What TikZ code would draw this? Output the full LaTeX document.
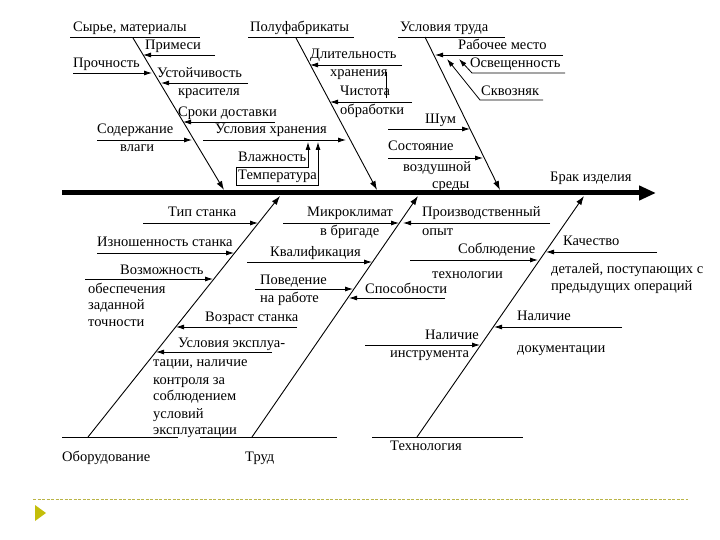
\documentclass[tikz,border=0pt]{standalone}
\usepackage{fontspec}
\setmainfont{Liberation Serif}
\usetikzlibrary{arrows.meta}
\newcommand\dfont{\fontsize{14.5}{17}\selectfont}
\definecolor{olivebul}{RGB}{196,190,10}
\definecolor{dashcol}{RGB}{185,180,70}
\begin{document}
\begin{tikzpicture}[x=1pt,y=-1pt,
 lbl/.style={anchor=base west,inner sep=0pt,font=\dfont},
 ln/.style={line width=0.8pt,black},
 arr/.style={ln,-{Latex[length=8pt,width=5pt]}},
 rib/.style={line width=0.9pt,black,-{Latex[length=9pt,width=6pt]}},
 spine/.style={line width=5pt,black,-{Triangle[length=17pt,width=14pt]}}]
\useasboundingbox (0,0) rectangle (720,540);

% ---------- spine ----------
\coordinate (sp1) at (62,193);
\coordinate (sp2) at (656,193);
\draw[spine] (sp1) -- (sp2);
\node[lbl] (brak) at (550,182) {Брак изделия};

% ---------- rib coordinates ----------
\coordinate (r1a) at (133,38);  \coordinate (r1b) at (224,190);
\coordinate (r2a) at (296,38);  \coordinate (r2b) at (377,190);
\coordinate (r3a) at (425,37);  \coordinate (r3b) at (500,190);
\coordinate (r4a) at (88,437);  \coordinate (r4b) at (280,196);
\coordinate (r5a) at (252,437); \coordinate (r5b) at (418,196);
\coordinate (r6a) at (417,437); \coordinate (r6b) at (584,196);
\draw[rib] (r1a) -- (r1b);
\draw[rib] (r2a) -- (r2b);
\draw[rib] (r3a) -- (r3b);
\draw[rib] (r4a) -- (r4b);
\draw[rib] (r5a) -- (r5b);
\draw[rib] (r6a) -- (r6b);

% ---------- category headers ----------
\node[lbl] (c1) at (73,32) {Сырье, материалы};
\coordinate (u1a) at (70,37); \coordinate (u1b) at (200,37);
\draw[ln] (u1a) -- (u1b);
\node[lbl] (c2) at (250,32) {Полуфабрикаты};
\coordinate (u2a) at (248,37); \coordinate (u2b) at (354,37);
\draw[ln] (u2a) -- (u2b);
\node[lbl] (c3) at (400,32) {Условия труда};
\coordinate (u3a) at (398,37); \coordinate (u3b) at (505,37);
\draw[ln] (u3a) -- (u3b);

\node[lbl] (c4) at (62,461) {Оборудование};
\coordinate (b4a) at (62,437); \coordinate (b4b) at (178,437);
\draw[ln] (b4a) -- (b4b);
\node[lbl] (c5) at (245,461) {Труд};
\coordinate (b5a) at (200,437); \coordinate (b5b) at (337,437);
\draw[ln] (b5a) -- (b5b);
\node[lbl] (c6) at (390,450) {Технология};
\coordinate (b6a) at (372,437); \coordinate (b6b) at (523,437);
\draw[ln] (b6a) -- (b6b);

% ---------- rib 1 : Сырье, материалы ----------
\node[lbl] (t1) at (145,50) {Примеси};
\coordinate (a1s) at (215,55); \coordinate (a1e) at (143,55);
\draw[arr] (a1s) -- (a1e);
\node[lbl] (t2) at (73,68) {Прочность};
\coordinate (a2s) at (73,73); \coordinate (a2e) at (152,73);
\draw[arr] (a2s) -- (a2e);
\node[lbl] (t3) at (157,78) {Устойчивость};
\node[lbl] (t3b) at (178,96) {красителя};
\coordinate (a3s) at (248,83); \coordinate (a3e) at (161,83);
\draw[arr] (a3s) -- (a3e);
\node[lbl] (t4) at (178,117) {Сроки доставки};
\coordinate (a4s) at (275,122); \coordinate (a4e) at (183,122);
\draw[arr] (a4s) -- (a4e);
\node[lbl] (t5) at (97,134) {Содержание};
\node[lbl] (t5b) at (120,152) {влаги};
\coordinate (a5s) at (97,140); \coordinate (a5e) at (192,140);
\draw[arr] (a5s) -- (a5e);

% ---------- rib 2 : Полуфабрикаты ----------
\node[lbl] (t6) at (215,134) {Условия хранения};
\coordinate (a6s) at (203,140); \coordinate (a6e) at (346,140);
\draw[arr] (a6s) -- (a6e);
\node[lbl] (t7) at (238,162) {Влажность};
\node[lbl] (t8) at (238,180) {Температура};
\coordinate (k1) at (236,167); \coordinate (k2) at (308,167); \coordinate (k3) at (308,142);
\coordinate (k4) at (236,185); \coordinate (k5) at (318,185); \coordinate (k6) at (318,142);
\draw[ln] (k1) -- (k4);
\draw[arr] (k1) -- (k2) -- (k3);
\draw[arr] (k4) -- (k5) -- (k6);
\node[lbl] (t9) at (310,59) {Длительность};
\node[lbl] (t9b) at (330,77) {хранения};
\coordinate (a9s) at (402,65); \coordinate (a9e) at (310,65);
\draw[arr] (a9s) -- (a9e);
\node[lbl] (t10) at (340,96) {Чистота};
\node[lbl] (t10b) at (340,115) {обработки};
\coordinate (a10s) at (412,102); \coordinate (a10e) at (330,102);
\draw[arr] (a10s) -- (a10e);
\coordinate (v1) at (386,72); \coordinate (v2) at (386,98);
\draw[ln] (v1) -- (v2);

% ---------- rib 3 : Условия труда ----------
\node[lbl] (t11) at (458,50) {Рабочее место};
\coordinate (a11s) at (563,55); \coordinate (a11e) at (435,55);
\draw[arr] (a11s) -- (a11e);
\node[lbl] (t12) at (470,68) {Освещенность};
\coordinate (a12s) at (565,73); \coordinate (a12m) at (472,73); \coordinate (a12e) at (459,59);
\draw[arr] (a12s) -- (a12m) -- (a12e);
\node[lbl] (t13) at (481,96) {Сквозняк};
\coordinate (a13s) at (543,100); \coordinate (a13m) at (480,100); \coordinate (a13e) at (447,59);
\draw[arr] (a13s) -- (a13m) -- (a13e);
\node[lbl] (t14) at (425,124) {Шум};
\coordinate (a14s) at (388,129); \coordinate (a14e) at (470,129);
\draw[arr] (a14s) -- (a14e);
\node[lbl] (t15) at (388,151) {Состояние};
\node[lbl] (t15b) at (403,172) {воздушной};
\node[lbl] (t15c) at (432,189) {среды};
\coordinate (a15s) at (388,158); \coordinate (a15e) at (483,158);
\draw[arr] (a15s) -- (a15e);

% ---------- rib 4 : Оборудование ----------
\node[lbl] (t16) at (168,217) {Тип станка};
\coordinate (a16s) at (143,223); \coordinate (a16e) at (258,223);
\draw[arr] (a16s) -- (a16e);
\node[lbl] (t17) at (97,247) {Изношенность станка};
\coordinate (a17s) at (97,253); \coordinate (a17e) at (234,253);
\draw[arr] (a17s) -- (a17e);
\node[lbl] (t18) at (120,274) {Возможность};
\node[lbl] (t18b) at (88,293) {обеспечения};
\node[lbl] (t18c) at (88,309) {заданной};
\node[lbl] (t18d) at (88,326) {точности};
\coordinate (a18s) at (85,279); \coordinate (a18e) at (213,279);
\draw[arr] (a18s) -- (a18e);
\node[lbl] (t19) at (205,321) {Возраст станка};
\coordinate (a19s) at (297,327); \coordinate (a19e) at (176,327);
\draw[arr] (a19s) -- (a19e);
\node[lbl] (t20) at (178,347) {Условия эксплуа-};
\node[lbl] (t20b) at (153,366) {тации, наличие};
\node[lbl] (t20c) at (153,384) {контроля за};
\node[lbl] (t20d) at (153,400) {соблюдением};
\node[lbl] (t20e) at (153,418) {условий};
\node[lbl] (t20f) at (153,434) {эксплуатации};
\coordinate (a20s) at (272,352); \coordinate (a20e) at (156,352);
\draw[arr] (a20s) -- (a20e);

% ---------- rib 5 : Труд ----------
\node[lbl] (t21) at (307,217) {Микроклимат};
\node[lbl] (t21b) at (320,236) {в бригаде};
\coordinate (a21s) at (283,223); \coordinate (a21e) at (399,223);
\draw[arr] (a21s) -- (a21e);
\node[lbl] (t22) at (422,217) {Производственный};
\node[lbl] (t22b) at (422,236) {опыт};
\coordinate (a22s) at (550,223); \coordinate (a22e) at (403,223);
\draw[arr] (a22s) -- (a22e);
\node[lbl] (t23) at (270,256) {Квалификация};
\coordinate (a23s) at (247,262); \coordinate (a23e) at (372,262);
\draw[arr] (a23s) -- (a23e);
\node[lbl] (t24) at (260,284) {Поведение};
\node[lbl] (t24b) at (260,302) {на работе};
\coordinate (a24s) at (255,289); \coordinate (a24e) at (353,289);
\draw[arr] (a24s) -- (a24e);
\node[lbl] (t25) at (365,293) {Способности};
\coordinate (a25s) at (445,298); \coordinate (a25e) at (349,298);
\draw[arr] (a25s) -- (a25e);

% ---------- rib 6 : Технология ----------
\node[lbl] (t26) at (458,254) {Соблюдение};
\node[lbl] (t26b) at (432,278) {технологии};
\coordinate (a26s) at (410,260); \coordinate (a26e) at (538,260);
\draw[arr] (a26s) -- (a26e);
\node[lbl] (t27) at (563,245) {Качество};
\node[lbl] (t27b) at (551,273) {деталей, поступающих с};
\node[lbl] (t27c) at (551,290) {предыдущих операций};
\coordinate (a27s) at (657,252); \coordinate (a27e) at (546,252);
\draw[arr] (a27s) -- (a27e);
\node[lbl] (t28) at (517,320) {Наличие};
\node[lbl] (t28b) at (517,352) {документации};
\coordinate (a28s) at (622,327); \coordinate (a28e) at (494,327);
\draw[arr] (a28s) -- (a28e);
\node[lbl] (t29) at (425,339) {Наличие};
\node[lbl] (t29b) at (390,357) {инструмента};
\coordinate (a29s) at (365,345); \coordinate (a29e) at (480,345);
\draw[arr] (a29s) -- (a29e);

% ---------- slide decoration ----------
\coordinate (d1) at (33,499); \coordinate (d2) at (688,499);
\draw[dashcol,line width=0.9pt,dash pattern=on 3pt off 1.5pt] (d1) -- (d2);
\fill[olivebul] (35,505) -- (46,513) -- (35,521) -- cycle;
\end{tikzpicture}
\end{document}
